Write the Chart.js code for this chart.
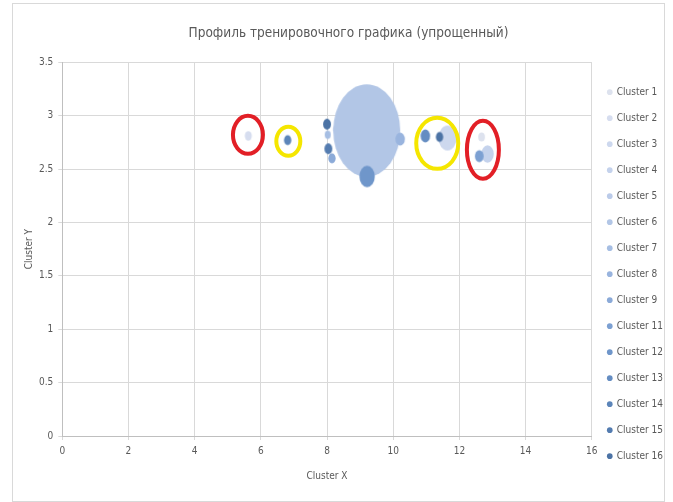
<!DOCTYPE html>
<html>
<head>
<meta charset="utf-8">
<script src="https://cdn.jsdelivr.net/npm/chart.js@4.4.1/dist/chart.umd.min.js"></script>
<style>
  html, body { margin: 0; padding: 0; background: #fff; }
  #wrap { width: 673px; height: 502px; }
</style>
</head>
<body>
<div id="wrap"><canvas id="chart"></canvas></div>
<script>
// data
const clusters = ['Cluster 1', 'Cluster 2', 'Cluster 3', 'Cluster 4', 'Cluster 5', 'Cluster 6', 'Cluster 7', 'Cluster 8',
  'Cluster 9', 'Cluster 11', 'Cluster 12', 'Cluster 13', 'Cluster 14', 'Cluster 15', 'Cluster 16'];
const clusterX = [[12.67], [5.62], [11.64], [12.85], [8.29], [9.20], [8.02], [10.21],
  [8.15], [12.60], [9.21], [10.97], [6.81], [8.04], [8.00, 11.40]];
const clusterY = [[2.80], [2.81], [2.79], [2.64], [2.87], [2.86], [2.82], [2.78],
  [2.60], [2.62], [2.43], [2.81], [2.77], [2.69], [2.92, 2.80]];
const clusterSize = [[1.0], [1.1], [7.3], [3.5], [1.1], [100], [0.8], [2.0],
  [1.2], [1.7], [5.3], [2.0], [1.2], [1.4], [1.4, 1.2]];
const xTicks = [0, 2, 4, 6, 8, 10, 12, 14, 16];
const yTicks = [0, 0.5, 1, 1.5, 2, 2.5, 3, 3.5];
// highlighted groups (centres in data units)
const ringX = [5.61, 6.83, 11.33, 12.71];
const ringY = [2.82, 2.76, 2.74, 2.68];

const colors = ['#dde2ee', '#d6ddef', '#cdd8ee', '#c4d2ec', '#bbcbe9', '#b2c6e6', '#a6bee3', '#99b4de',
  '#8baad8', '#7ca0d2', '#6f96ca', '#658dc2', '#5c85b9', '#547cb0', '#4c73a5'];
const ringStyle = [
  { color: '#e21f26', rx: 15, ry: 19 },
  { color: '#f5e600', rx: 12, ry: 14.5 },
  { color: '#f5e600', rx: 21, ry: 25.5 },
  { color: '#e21f26', rx: 16, ry: 29 }
];
const stretch = 1.38;
const font = "'Liberation Sans Narrow', 'DejaVu Sans Condensed', 'Liberation Sans', sans-serif";
const grey = '#595959';

// bubbles drawn as slightly tall ellipses, like the picture
function ellipseStyle(ctx) {
  const raw = ctx.raw;
  if (!raw) return 'circle';
  const rx = raw.r, ry = raw.r * stretch;
  const c = document.createElement('canvas');
  c.width = Math.ceil(rx * 2) + 2;
  c.height = Math.ceil(ry * 2) + 2;
  const g = c.getContext('2d');
  g.fillStyle = ctx.dataset.backgroundColor;
  g.beginPath();
  g.ellipse(c.width / 2, c.height / 2, rx, ry, 0, 0, Math.PI * 2);
  g.fill();
  return c;
}

const datasets = clusters.map((name, i) => ({
  label: name,
  data: clusterX[i].map((x, j) => ({ x: x, y: clusterY[i][j], r: 3.35 * Math.sqrt(clusterSize[i][j]) })),
  backgroundColor: colors[i],
  borderWidth: 0,
  pointStyle: ellipseStyle,
  order: -i
}));

const frame = {
  id: 'frame',
  beforeDraw(chart) {
    const c = chart.ctx;
    c.save();
    c.fillStyle = '#fff';
    c.fillRect(0, 0, chart.width, chart.height);
    c.strokeStyle = '#d9d9d9';
    c.lineWidth = 1;
    c.strokeRect(12.5, 3.5, 652, 498);
    c.restore();
  }
};

const rings = {
  id: 'rings',
  afterDatasetsDraw(chart) {
    const { ctx, scales: { x, y } } = chart;
    ctx.save();
    ctx.lineWidth = 4;
    ringX.forEach((v, i) => {
      const s = ringStyle[i];
      ctx.strokeStyle = s.color;
      ctx.beginPath();
      ctx.ellipse(x.getPixelForValue(v), y.getPixelForValue(ringY[i]), s.rx, s.ry, 0, 0, Math.PI * 2);
      ctx.stroke();
    });
    ctx.restore();
  }
};

new Chart(document.getElementById('chart'), {
  type: 'bubble',
  data: { datasets: datasets },
  plugins: [frame, rings],
  options: {
    responsive: true,
    maintainAspectRatio: false,
    animation: false,
    layout: { padding: { left: 24, right: 0, top: 0, bottom: 20 } },
    plugins: {
      title: {
        display: true,
        text: 'Профиль тренировочного графика (упрощенный)',
        color: grey,
        font: { family: font, size: 13.5, weight: 'normal' },
        padding: { top: 25, bottom: 21 }
      },
      legend: {
        position: 'right',
        align: 'start',
        title: { display: true, text: '', font: { size: 1 }, padding: { top: 70, bottom: 0 } },
        labels: {
          usePointStyle: true,
          pointStyle: 'circle',
          boxWidth: 4,
          boxHeight: 4,
          padding: 16,
          color: grey,
          font: { family: font, size: 10 },
          sort: (a, b) => a.datasetIndex - b.datasetIndex
        }
      },
      tooltip: { enabled: false }
    },
    scales: {
      x: {
        type: 'linear',
        min: 0,
        max: 16,
        afterBuildTicks: (axis) => { axis.ticks = xTicks.map(v => ({ value: v })); },
        grid: { color: '#d9d9d9', tickLength: 4 },
        border: { color: '#bfbfbf' },
        ticks: { color: grey, font: { family: font, size: 10 }, padding: 5, callback: (v) => String(v) },
        title: { display: true, text: 'Cluster X', color: grey, font: { family: font, size: 10 }, padding: { top: 8, bottom: 0 } }
      },
      y: {
        type: 'linear',
        min: 0,
        max: 3.5,
        afterBuildTicks: (axis) => { axis.ticks = yTicks.map(v => ({ value: v })); },
        grid: { color: '#d9d9d9', tickLength: 4 },
        border: { color: '#bfbfbf' },
        ticks: { color: grey, font: { family: font, size: 10 }, padding: 5, callback: (v) => String(v) },
        title: { display: true, text: 'Cluster Y', color: grey, font: { family: font, size: 10, lineHeight: 1 }, padding: 0 }
      }
    }
  }
});
</script>
</body>
</html>
